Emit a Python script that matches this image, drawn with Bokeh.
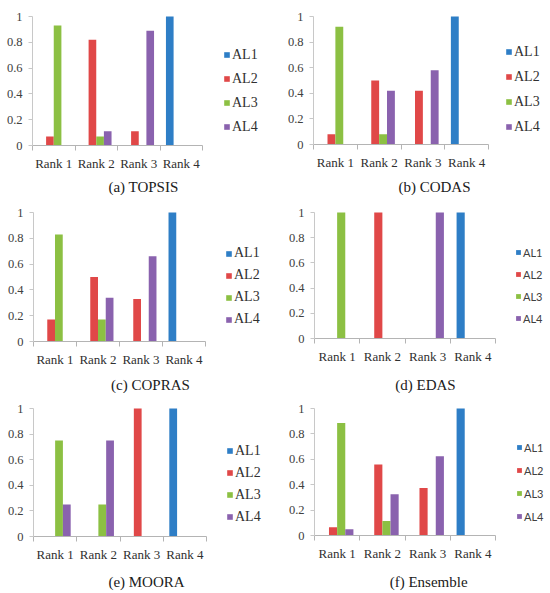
from bokeh.plotting import figure
from bokeh.models import Legend, LegendItem, FixedTicker, Range1d, Label
from bokeh.layouts import gridplot
from bokeh.embed import file_html
from bokeh.resources import INLINE
import numpy as np

ranks = ["Rank 1", "Rank 2", "Rank 3", "Rank 4"]
series = ["AL1", "AL2", "AL3", "AL4"]
colors = ["#2e7ec6", "#e04848", "#8cc043", "#8a62ae"]
y_ticks = [0, 0.2, 0.4, 0.6, 0.8, 1]
y_tick_labels = ["0", "0.2", "0.4", "0.6", "0.8", "1"]

topsis = {"AL1": [0, 0, 0, 1], "AL2": [0.07, 0.82, 0.11, 0],
          "AL3": [0.93, 0.07, 0, 0], "AL4": [0, 0.11, 0.89, 0]}
codas = {"AL1": [0, 0, 0, 1], "AL2": [0.08, 0.50, 0.42, 0],
         "AL3": [0.92, 0.08, 0, 0], "AL4": [0, 0.42, 0.58, 0]}
copras = {"AL1": [0, 0, 0, 1], "AL2": [0.17, 0.50, 0.33, 0],
          "AL3": [0.83, 0.17, 0, 0], "AL4": [0, 0.34, 0.66, 0]}
edas = {"AL1": [0, 0, 0, 1], "AL2": [0, 1, 0, 0],
        "AL3": [1, 0, 0, 0], "AL4": [0, 0, 1, 0]}
moora = {"AL1": [0, 0, 0, 1], "AL2": [0, 0, 1, 0],
         "AL3": [0.75, 0.25, 0, 0], "AL4": [0.25, 0.75, 0, 0]}
ensemble = {"AL1": [0, 0, 0, 1], "AL2": [0.065, 0.56, 0.375, 0],
            "AL3": [0.885, 0.115, 0, 0], "AL4": [0.05, 0.325, 0.625, 0]}

captions = ["(a) TOPSIS", "(b) CODAS", "(c) COPRAS", "(d) EDAS", "(e) MOORA", "(f)  Ensemble"]
datasets = [topsis, codas, copras, edas, moora, ensemble]

# layout parameters (pixels, relative to each panel's top-left)
W = 275
panel_cfg = [
    dict(h=195, L=32, R=202, T=16, B=145, lx=223, ly1=54, pitch=24.3, cx=143, cy=186, sans=False),
    dict(h=195, L=38, R=213, T=16, B=144, lx=230, ly1=53, pitch=24.6, cx=159, cy=186, sans=False),
    dict(h=198, L=33, R=205, T=17, B=146, lx=225, ly1=58, pitch=22, cx=150, cy=189, sans=False),
    dict(h=198, L=39, R=220, T=17, B=143, lx=240, ly1=57, pitch=22, cx=150, cy=189, sans=True),
    dict(h=200, L=33, R=206, T=15, B=143, lx=226, ly1=56, pitch=22.5, cx=146, cy=188, sans=False),
    dict(h=200, L=39, R=220, T=15, B=142, lx=241, ly1=55, pitch=22.7, cx=155, cy=188, sans=True),
]

SERIF = "Liberation Serif"
SANS = "Lato"
bar_w = 0.18
offsets = [-0.27, -0.09, 0.09, 0.27]
n = len(ranks)

figs = []
for data, cap, cfg in zip(datasets, captions, panel_cfg):
    h = cfg["h"]
    sx = (cfg["R"] - cfg["L"]) / n       # pixels per rank group
    sy = (cfg["B"] - cfg["T"])           # pixels per unit value
    xr = Range1d(-cfg["L"] / sx, (W - cfg["L"]) / sx)
    yr = Range1d(-(h - cfg["B"]) / sy, 1 + cfg["T"] / sy)
    p = figure(width=W, height=h, output_backend="svg", toolbar_location=None,
               x_range=xr, y_range=yr,
               min_border_left=0, min_border_right=0, min_border_top=0, min_border_bottom=0)
    p.outline_line_color = None
    p.xgrid.grid_line_color = None
    p.ygrid.grid_line_color = None
    p.background_fill_color = "white"
    p.border_fill_color = "white"

    centers = np.arange(n) + 0.5
    items = []
    for k, s in enumerate(series):
        r = p.vbar(x=centers + offsets[k], top=data[s], width=bar_w, bottom=0,
                   fill_color=colors[k], line_color=None)
        items.append(LegendItem(label=s, renderers=[r]))

    # x axis: labels at group centres, ticks at group boundaries
    p.xaxis.fixed_location = 0
    p.xaxis.bounds = (0, n)
    p.xaxis.ticker = FixedTicker(ticks=list(centers), minor_ticks=list(range(n + 1)))
    p.xaxis.major_label_overrides = {float(c): r for c, r in zip(centers, ranks)}
    p.xaxis.major_tick_out = 0
    p.xaxis.major_tick_in = 0
    p.xaxis.minor_tick_out = 5
    p.xaxis.minor_tick_in = 0
    p.xaxis.axis_line_color = "#b4b4b4"
    p.xaxis.minor_tick_line_color = "#b4b4b4"
    p.xaxis.major_label_standoff = 5
    p.xaxis.major_label_text_font = SERIF
    p.xaxis.major_label_text_font_size = "13px"
    p.xaxis.major_label_text_color = "#303030"

    p.yaxis.fixed_location = 0
    p.yaxis.bounds = (0, 1)
    p.yaxis.ticker = FixedTicker(ticks=y_ticks, minor_ticks=[])
    p.yaxis.major_label_overrides = {float(t): l for t, l in zip(y_ticks, y_tick_labels)}
    p.yaxis.axis_line_color = "#c8c8c8"
    p.yaxis.major_tick_line_color = "#c8c8c8"
    p.yaxis.major_tick_out = 4
    p.yaxis.major_tick_in = 0
    p.yaxis.major_label_standoff = 6
    p.yaxis.major_label_text_font = SERIF
    p.yaxis.major_label_text_font_size = "12.5px"
    p.yaxis.major_label_text_color = "#404040"

    item_h = 14 if cfg["sans"] else 16
    spacing = cfg["pitch"] - item_h
    last_center = cfg["ly1"] + 3 * cfg["pitch"]
    vy = h - (last_center + item_h / 2)
    leg = Legend(items=items, location=(cfg["lx"], vy), padding=0, margin=0,
                 spacing=int(round(spacing)), glyph_width=7 if not cfg["sans"] else 6,
                 glyph_height=7 if not cfg["sans"] else 6,
                 label_height=item_h, label_standoff=2,
                 border_line_color=None, background_fill_alpha=0,
                 label_text_font=SANS if cfg["sans"] else SERIF,
                 label_text_font_size="11px" if cfg["sans"] else "14px",
                 label_text_color="#404040" if cfg["sans"] else "#303030")
    p.add_layout(leg, "center")

    p.add_layout(Label(x=cfg["cx"], y=h - cfg["cy"], x_units="screen", y_units="screen",
                       text=cap, text_align="center", text_baseline="middle",
                       text_font=SERIF, text_font_size="15px", text_color="#202020"))
    figs.append(p)

grid = gridplot([[figs[0], figs[1]], [figs[2], figs[3]], [figs[4], figs[5]]],
                toolbar_location=None)

open("out.html", "w").write(file_html(grid, INLINE))
